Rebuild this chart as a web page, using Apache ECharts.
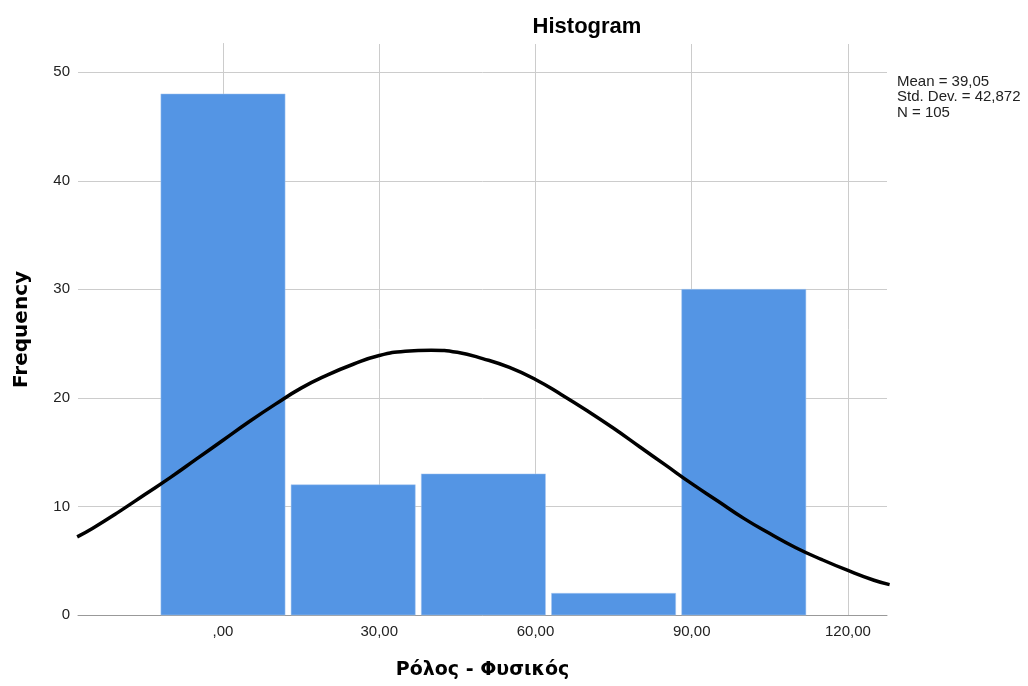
<!DOCTYPE html>
<html>
<head>
<meta charset="utf-8">
<script src="https://cdn.jsdelivr.net/npm/echarts@6/dist/echarts.min.js"></script>
<style>html,body{margin:0;padding:0;background:#fff;}#c{width:1028px;height:686px;}</style>
</head>
<body>
<div id="c"></div>
<script>
// Histogram bins (centers) and frequencies
const binCenters = [0, 25, 50, 75, 100];
const binWidth = 25;
const counts = [48, 12, 13, 2, 30];
// Normal curve points
const curveX = [-28, -25, -20, -15, -10, -5, 0, 5, 10, 15, 20, 25, 30, 35, 40, 45, 50, 55, 60, 65, 70, 75, 80, 85, 90, 95, 100, 105, 110, 115, 120, 125, 128];
const curveY = [7.2, 8.0, 9.5, 11.1, 12.7, 14.4, 16.1, 17.8, 19.4, 20.9, 22.1, 23.1, 23.9, 24.3, 24.4, 24.2, 23.6, 22.8, 21.7, 20.3, 18.8, 17.2, 15.5, 13.8, 12.1, 10.5, 8.9, 7.5, 6.2, 5.1, 4.1, 3.2, 2.8];
// Tick labels
const xTicks = [0, 30, 60, 90, 120];
const statsLines = ['Mean = 39,05', 'Std. Dev. = 42,872', 'N = 105'];

const FONT = 'Liberation Sans, Arial, sans-serif';
const NAMEFONT = 'DejaVu Sans, Liberation Sans, sans-serif';
const chart = echarts.init(document.getElementById('c'));
chart.setOption({
  animation: false,
  backgroundColor: '#fff',
  grid: { left: 78, right: 141, top: 44, bottom: 71, outerBoundsMode: 'none', containLabel: false },
  graphic: [
    { type: 'text', x: 587, y: 27, style: { text: 'Histogram', font: 'bold 22px ' + FONT, fill: '#000', align: 'center', verticalAlign: 'middle' } },
    { type: 'text', x: 897, y: 74, style: { text: statsLines.join('\n'), font: '15px ' + FONT, fill: '#222', lineHeight: 15.5, align: 'left', verticalAlign: 'top' } }
  ],
  xAxis: {
    type: 'value', min: -27.84, max: 127.5,
    name: 'Ρόλος - Φυσικός', nameLocation: 'middle', nameGap: 46,
    nameTextStyle: { fontFamily: NAMEFONT, fontWeight: 'bold', fontSize: 19, color: '#000' },
    axisLine: { show: true, onZero: false, lineStyle: { color: '#999', width: 1 } },
    axisTick: { show: false },
    splitLine: { show: false },
    axisLabel: {
      customValues: xTicks, margin: 9, fontFamily: FONT, fontSize: 15, color: '#222',
      formatter: v => (v === 0 ? '' : String(v)) + ',00'
    }
  },
  yAxis: {
    type: 'value', min: 0, max: 52.6, interval: 10,
    name: 'Frequency', nameLocation: 'middle', nameGap: 46,
    nameTextStyle: { fontFamily: NAMEFONT, fontWeight: 'bold', fontSize: 20, color: '#000' },
    axisLine: { show: true, lineStyle: { color: '#888', width: 1 } },
    axisTick: { show: false },
    axisLabel: { margin: 8, fontFamily: FONT, fontSize: 15, color: '#222', showMaxLabel: false },
    splitLine: { show: true, showMaxLine: false, lineStyle: { color: '#cccccc', width: 1 } }
  },
  series: [
    {
      type: 'custom',
      z: 3,
      data: binCenters.map((c, i) => [c, counts[i]]),
      renderItem: function (params, api) {
        const c = api.value(0), v = api.value(1);
        const p0 = api.coord([c - binWidth / 2, v]);
        const p1 = api.coord([c + binWidth / 2, 0]);
        const inset = 3;
        return {
          type: 'rect',
          shape: { x: p0[0] + inset, y: p0[1], width: p1[0] - p0[0] - 2 * inset, height: p1[1] - p0[1] },
          style: { fill: '#5495e4', stroke: '#a9c9f0', lineWidth: 0.5 }
        };
      },
      markLine: {
        silent: true, symbol: 'none', label: { show: false },
        lineStyle: { color: '#cccccc', width: 1, type: 'solid' },
        z: 1,
        data: xTicks.map(v => ({ xAxis: v }))
      }
    },
    {
      type: 'line', z: 5, smooth: true, showSymbol: false, symbol: 'none',
      lineStyle: { color: '#000', width: 3.5 },
      data: curveX.map((x, i) => [x, curveY[i]])
    }
  ]
});
</script>
</body>
</html>
